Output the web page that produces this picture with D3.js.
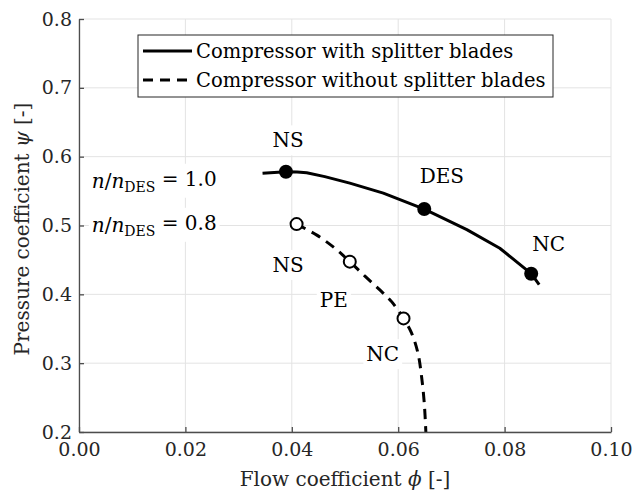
<!DOCTYPE html>
<html>
<head>
<meta charset="utf-8">
<script src="https://cdn.jsdelivr.net/npm/d3@7"></script>
<style>
  body { margin: 0; background: #fff; }
  svg text { font-family: "DejaVu Serif", serif; }
</style>
</head>
<body>
<div id="chart"></div>
<script>
//////////////////////////////////////////////////////////////
///////////////////////// Data ///////////////////////////////
//////////////////////////////////////////////////////////////

// Compressor with splitter blades, n/nDES = 1.0  [phi, psi]
var withSplitter = [
  [0.0345, 0.576], [0.0389, 0.578], [0.0410, 0.5778], [0.0428, 0.5765], [0.0462, 0.571],
  [0.0509, 0.5615], [0.0572, 0.547], [0.0649, 0.5237], [0.0729, 0.494],
  [0.0791, 0.467], [0.0850, 0.430], [0.0865, 0.414]
];
var withSplitterMarks = [[0.0389, 0.578], [0.0649, 0.524], [0.0850, 0.430]];

// Compressor without splitter blades, n/nDES = 0.8
var withoutSplitter = [
  [0.0409, 0.502], [0.0447, 0.486], [0.0481, 0.467], [0.0509, 0.4475],
  [0.0538, 0.426], [0.0566, 0.406], [0.0588, 0.389], [0.0610, 0.365],
  [0.0625, 0.344], [0.0637, 0.315], [0.0644, 0.280], [0.0649, 0.242],
  [0.0652, 0.200]
];
var withoutSplitterMarks = [[0.0409, 0.502], [0.0509, 0.4475], [0.0610, 0.365]];

// point labels, placed in data coordinates
var pointLabels = [
  {text: "NS",  phi: 0.0393, psi: 0.624},
  {text: "DES", phi: 0.0682, psi: 0.572},
  {text: "NC",  phi: 0.0883, psi: 0.473},
  {text: "NS",  phi: 0.0393, psi: 0.443},
  {text: "PE",  phi: 0.0479, psi: 0.392},
  {text: "NC",  phi: 0.0571, psi: 0.3134}
];
var speedLabels = [
  {value: "1.0", phi: 0.0024, psi: 0.5656},
  {value: "0.8", phi: 0.0024, psi: 0.5016}
];

var xTicks = [0, 0.02, 0.04, 0.06, 0.08, 0.10];
var yTicks = [0.2, 0.3, 0.4, 0.5, 0.6, 0.7, 0.8];
var legendNames = ["Compressor with splitter blades", "Compressor without splitter blades"];

//////////////////////////////////////////////////////////////
///////////////////// General settings ///////////////////////
//////////////////////////////////////////////////////////////

var W = 634, H = 493;
var margin = {top: 19, right: 23, bottom: 61, left: 79};
var width = W - margin.left - margin.right;
var height = H - margin.top - margin.bottom;
var fontFam = "'DejaVu Serif', serif";

var xScale = d3.scaleLinear().domain([0, 0.10]).range([0, width]);
var yScale = d3.scaleLinear().domain([0.2, 0.8]).range([height, 0]);

var svg = d3.select("#chart").append("svg")
    .attr("width", W)
    .attr("height", H);

var g = svg.append("g")
    .attr("transform", "translate(" + margin.left + "," + margin.top + ")");

//Grid
g.append("g").attr("class", "grid")
  .selectAll("line.gx").data(xTicks).enter().append("line")
    .attr("x1", d => xScale(d)).attr("x2", d => xScale(d))
    .attr("y1", 0).attr("y2", height)
    .attr("stroke", "#e3e3e3").attr("stroke-width", 1);
g.select(".grid")
  .selectAll("line.gy").data(yTicks).enter().append("line")
    .attr("x1", 0).attr("x2", width)
    .attr("y1", d => yScale(d)).attr("y2", d => yScale(d))
    .attr("stroke", "#e3e3e3").attr("stroke-width", 1);

//////////////////////////////////////////////////////////////
////////////////////// Text boxes ////////////////////////////
//////////////////////////////////////////////////////////////

var boxLayer = g.append("g");
var lineLayer = g.append("g");
var textLayer = g.append("g");

function addBox(textSel, pad) {
  var b = textSel.node().getBBox();
  boxLayer.append("rect")
    .attr("x", b.x - pad).attr("y", b.y - pad)
    .attr("width", b.width + 2 * pad).attr("height", b.height + 2 * pad)
    .attr("fill", "#fff");
}

pointLabels.forEach(function(d) {
  var t = textLayer.append("text")
    .attr("x", xScale(d.phi))
    .attr("y", yScale(d.psi))
    .attr("text-anchor", "middle")
    .attr("dy", "0.36em")
    .style("font-size", "20px")
    .attr("fill", "#000")
    .text(d.text);
  addBox(t, 3);
});

speedLabels.forEach(function(d) {
  var t = textLayer.append("text")
    .attr("x", xScale(d.phi))
    .attr("y", yScale(d.psi))
    .attr("dy", "0.36em")
    .style("font-size", "20px")
    .attr("fill", "#000");
  t.append("tspan").style("font-style", "italic").text("n");
  t.append("tspan").text("/");
  t.append("tspan").style("font-style", "italic").text("n");
  t.append("tspan").attr("dy", "0.3em").style("font-size", "14px").text("DES");
  t.append("tspan").attr("dy", "-0.3em").text(" = " + d.value);
  addBox(t, 3);
});

//////////////////////////////////////////////////////////////
//////////////////////// Lines ///////////////////////////////
//////////////////////////////////////////////////////////////

var lineStraight = d3.line()
    .x(d => xScale(d[0]))
    .y(d => yScale(d[1]));

var lineSmooth = d3.line()
    .x(d => xScale(d[0]))
    .y(d => yScale(d[1]))
    .curve(d3.curveCatmullRom);

lineLayer.append("path")
    .datum(withSplitter)
    .attr("d", lineStraight)
    .attr("fill", "none")
    .attr("stroke", "#000")
    .attr("stroke-width", 3)
    .attr("stroke-linejoin", "round");

lineLayer.append("path")
    .datum(withoutSplitter)
    .attr("d", lineSmooth)
    .attr("fill", "none")
    .attr("stroke", "#000")
    .attr("stroke-width", 3)
    .attr("stroke-dasharray", "10,7");

lineLayer.selectAll(".markFilled")
    .data(withSplitterMarks).enter().append("circle")
    .attr("class", "markFilled")
    .attr("cx", d => xScale(d[0])).attr("cy", d => yScale(d[1]))
    .attr("r", 7)
    .attr("fill", "#000");

lineLayer.selectAll(".markOpen")
    .data(withoutSplitterMarks).enter().append("circle")
    .attr("class", "markOpen")
    .attr("cx", d => xScale(d[0])).attr("cy", d => yScale(d[1]))
    .attr("r", 6)
    .attr("fill", "#fff")
    .attr("stroke", "#000")
    .attr("stroke-width", 2);

//////////////////////////////////////////////////////////////
//////////////////////// Axes ////////////////////////////////
//////////////////////////////////////////////////////////////

var xAxis = d3.axisBottom(xScale).tickValues(xTicks)
    .tickFormat(d3.format(".2f")).tickSizeInner(-5).tickSizeOuter(0).tickPadding(11);
var yAxis = d3.axisLeft(yScale).tickValues(yTicks)
    .tickFormat(d3.format(".1f")).tickSizeInner(-5).tickSizeOuter(0).tickPadding(7);

var gx = g.append("g")
    .attr("transform", "translate(0," + height + ")")
    .call(xAxis);
var gy = g.append("g").call(yAxis);

[gx, gy].forEach(function(a) {
  a.select(".domain").attr("stroke", "#4d4d4d").attr("stroke-width", 1.3);
  a.selectAll(".tick line").attr("stroke", "#4d4d4d").attr("stroke-width", 1.3);
  a.selectAll(".tick text")
    .attr("fill", "#262626")
    .style("font-family", fontFam)
    .style("font-size", "19px");
});

//Axis titles
var xt = svg.append("text")
    .attr("x", margin.left + width / 2)
    .attr("y", 486)
    .attr("text-anchor", "middle")
    .style("font-size", "20px")
    .attr("fill", "#262626");
xt.append("tspan").text("Flow coefficient ");
xt.append("tspan").style("font-style", "italic").text("\u03D5");
xt.append("tspan").text(" [-]");

var yt = svg.append("text")
    .attr("transform", "translate(29," + 229 + ") rotate(-90)")
    .attr("text-anchor", "middle")
    .style("font-size", "20px")
    .attr("fill", "#262626");
yt.append("tspan").text("Pressure coefficient ");
yt.append("tspan").style("font-style", "italic").text("\u03C8");
yt.append("tspan").text(" [-]");

//////////////////////////////////////////////////////////////
/////////////////////// Legend ///////////////////////////////
//////////////////////////////////////////////////////////////

var legend = svg.append("g").attr("transform", "translate(138,35)");
legend.append("rect")
    .attr("width", 415).attr("height", 62)
    .attr("fill", "#fff")
    .attr("stroke", "#262626")
    .attr("stroke-width", 1);

legendNames.forEach(function(name, i) {
  var y = 16 + i * 29;
  legend.append("line")
    .attr("x1", 5).attr("x2", 54)
    .attr("y1", y).attr("y2", y)
    .attr("stroke", "#000")
    .attr("stroke-width", 3)
    .attr("stroke-dasharray", i === 0 ? null : "10,7");
  legend.append("text")
    .attr("x", 58).attr("y", y)
    .attr("dy", "0.36em")
    .style("font-size", "19.5px")
    .attr("fill", "#000")
    .text(name);
});
</script>
</body>
</html>
